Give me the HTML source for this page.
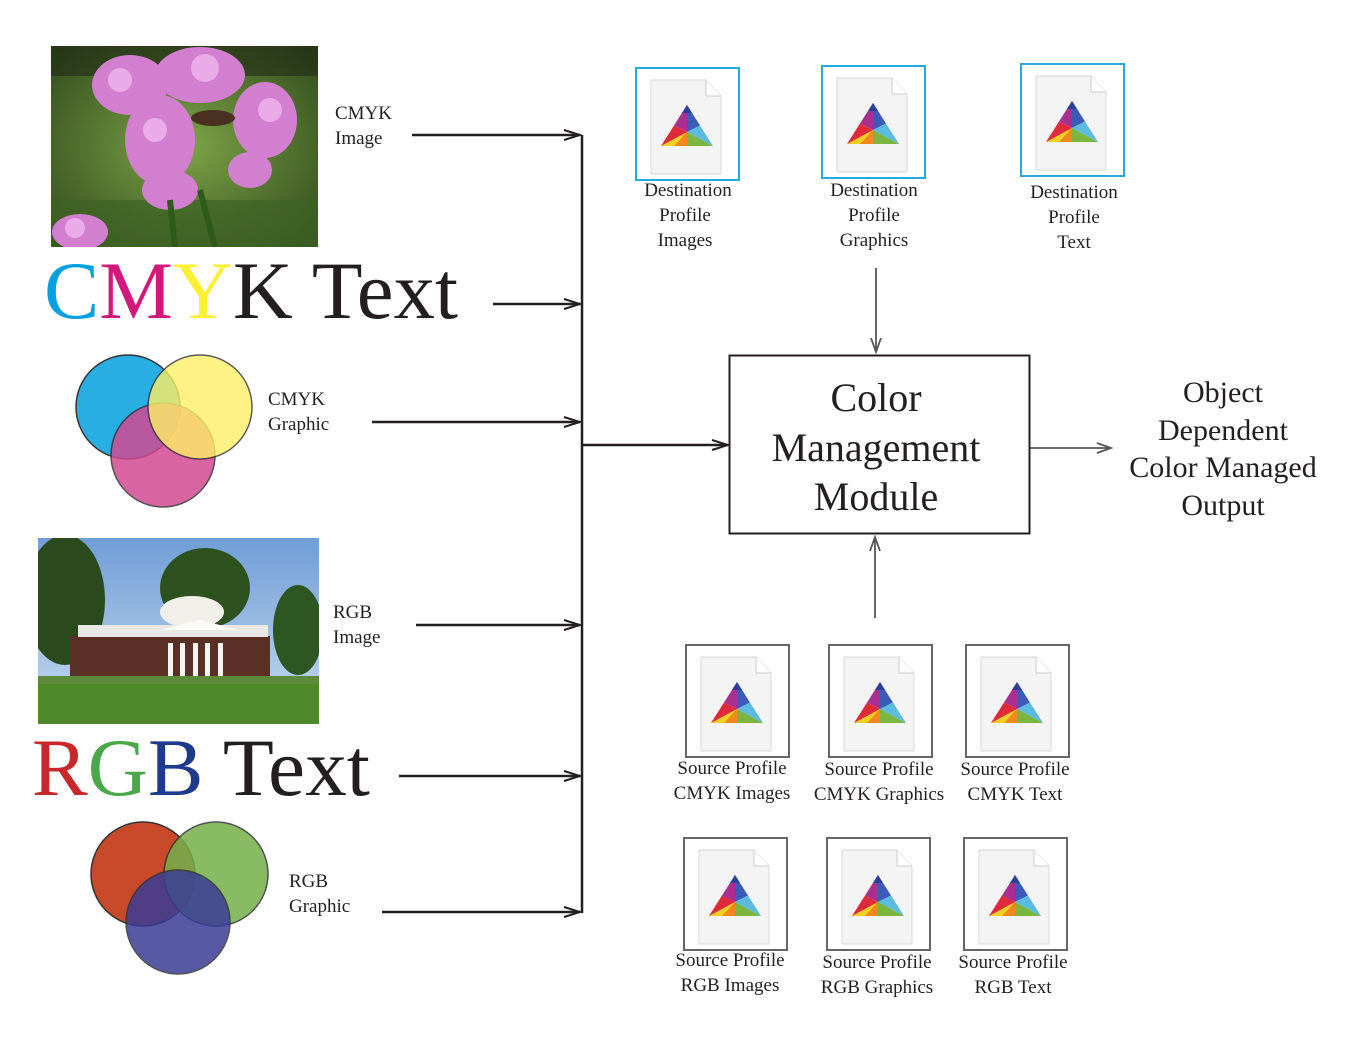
<!DOCTYPE html>
<html><head><meta charset="utf-8"><style>
html,body{margin:0;padding:0;background:#fff;width:1362px;height:1048px;overflow:hidden}
svg{display:block}
text{font-family:"Liberation Serif",serif;fill:#231f20}
</style></head><body>
<svg width="1362" height="1048" viewBox="0 0 1362 1048" xmlns="http://www.w3.org/2000/svg">
<defs>
<marker id="ah" markerWidth="20" markerHeight="12" refX="18" refY="6" orient="auto" markerUnits="userSpaceOnUse">
<path d="M2,1 L18,6 L2,11" fill="none" stroke="#231f20" stroke-width="2"/>
</marker>
<marker id="ahg" markerWidth="20" markerHeight="12" refX="18" refY="6" orient="auto" markerUnits="userSpaceOnUse">
<path d="M4,1 L18,6 L4,11" fill="none" stroke="#555" stroke-width="1.8"/>
</marker>
<linearGradient id="sky" x1="0" y1="0" x2="0" y2="1"><stop offset="0" stop-color="#6f9ed6"/><stop offset="1" stop-color="#c9dcf0"/></linearGradient>
<radialGradient id="grass1" cx="0.5" cy="0.5" r="0.7"><stop offset="0" stop-color="#7da447"/><stop offset="1" stop-color="#2f4a1c"/></radialGradient>
<clipPath id="c1"><rect x="51" y="46" width="267" height="201"/></clipPath>
<clipPath id="c2"><rect x="38" y="538" width="281" height="186"/></clipPath>
<g id="ico">
<path d="M15,12 H70 L85,28 V106 H15 Z" fill="#f4f4f4" stroke="#d8d8d8" stroke-width="1"/>
<path d="M70,12 V28 H85" fill="#fff" stroke="#ccc" stroke-width="1"/>
<polygon points="51,37 38,57.5 51,64" fill="#a83090"/>
<polygon points="51,37 64,57.5 51,64" fill="#3a5cb8"/>
<polygon points="64,57.5 77,78 51,64" fill="#5cbbe0"/>
<polygon points="77,78 51,78 51,64" fill="#7ab640"/>
<polygon points="51,78 25,78 51,64" fill="#f0d020"/>
<polygon points="25,78 38,57.5 51,64" fill="#e02a3a"/>
<polygon points="51,78 38,78 51,64" fill="#f08a20"/>
<polygon points="51,37 56,45 46,45" fill="#2b3f9a"/>
</g>
</defs>

<!-- Flower photo -->
<g clip-path="url(#c1)">
<rect x="51" y="46" width="267" height="201" fill="url(#grass1)"/>
<rect x="51" y="46" width="267" height="30" fill="#1f2a14" opacity="0.6"/>
<rect x="51" y="200" width="267" height="47" fill="#3d6224" opacity="0.7"/>
<g fill="#d27fd0">
<ellipse cx="130" cy="85" rx="38" ry="30"/>
<ellipse cx="200" cy="75" rx="45" ry="28"/>
<ellipse cx="160" cy="140" rx="35" ry="45"/>
<ellipse cx="265" cy="120" rx="32" ry="38"/>
<ellipse cx="170" cy="190" rx="28" ry="20"/>
<ellipse cx="250" cy="170" rx="22" ry="18"/>
<ellipse cx="80" cy="232" rx="28" ry="18"/>
</g>
<g fill="#f0b6ee" opacity="0.8">
<circle cx="120" cy="80" r="12"/><circle cx="205" cy="68" r="14"/><circle cx="155" cy="130" r="12"/><circle cx="270" cy="110" r="12"/><circle cx="75" cy="228" r="10"/>
</g>
<ellipse cx="213" cy="118" rx="22" ry="8" fill="#4a3020"/>
<path d="M170,200 L175,247 M200,190 L215,247" stroke="#2e5a1c" stroke-width="6"/>
</g>

<!-- House photo -->
<g clip-path="url(#c2)">
<rect x="38" y="538" width="281" height="186" fill="url(#sky)"/>
<rect x="38" y="683" width="281" height="41" fill="#4f8a2a"/>
<ellipse cx="65" cy="600" rx="40" ry="65" fill="#2b4a1e"/>
<ellipse cx="205" cy="588" rx="45" ry="40" fill="#2d5220"/>
<ellipse cx="298" cy="630" rx="25" ry="45" fill="#2d5622"/>
<rect x="70" y="636" width="200" height="45" fill="#5a3026"/>
<rect x="78" y="625" width="190" height="12" fill="#e8e8e4"/>
<ellipse cx="192" cy="612" rx="32" ry="16" fill="#f0efea"/>
<polygon points="160,630 200,620 240,630" fill="#fafaf6"/>
<g fill="#f4f4f0"><rect x="168" y="643" width="5" height="35"/><rect x="180" y="643" width="5" height="35"/><rect x="193" y="643" width="5" height="35"/><rect x="205" y="643" width="5" height="35"/><rect x="218" y="643" width="5" height="35"/></g>
<rect x="38" y="676" width="281" height="8" fill="#5d8a3a"/>
</g>

<!-- CMYK circles -->
<circle cx="128" cy="407" r="52" fill="#29aee3" stroke="#333" stroke-width="1.5"/>
<circle cx="163" cy="455" r="52" fill="#d24a92" stroke="#333" stroke-width="1.5" opacity="0.85"/>
<circle cx="200" cy="407" r="52" fill="#fff066" stroke="#333" stroke-width="1.5" opacity="0.8"/>

<!-- RGB circles -->
<circle cx="143" cy="874" r="52" fill="#c84a2a" stroke="#333" stroke-width="1.5"/>
<circle cx="216" cy="874" r="52" fill="#74b04a" stroke="#333" stroke-width="1.5" opacity="0.85"/>
<circle cx="178" cy="922" r="52" fill="#3a3d96" stroke="#333" stroke-width="1.5" opacity="0.85"/>

<!-- Big texts -->
<text x="44" y="318" font-size="82" textLength="414" lengthAdjust="spacingAndGlyphs"><tspan fill="#05a0e0">C</tspan><tspan fill="#d2187a">M</tspan><tspan fill="#fff035">Y</tspan><tspan fill="#231f20">K Text</tspan></text>
<text x="32" y="795" font-size="82" textLength="338" lengthAdjust="spacingAndGlyphs"><tspan fill="#c8282a">R</tspan><tspan fill="#4aa84a">G</tspan><tspan fill="#1e3a8c">B</tspan><tspan fill="#231f20"> Text</tspan></text>

<!-- small labels -->
<g font-size="19">
<text x="335" y="119">CMYK</text><text x="335" y="144">Image</text>
<text x="268" y="405">CMYK</text><text x="268" y="430">Graphic</text>
<text x="333" y="618">RGB</text><text x="333" y="643">Image</text>
<text x="289" y="887">RGB</text><text x="289" y="912">Graphic</text>
</g>

<!-- bus and arrows -->
<g stroke="#231f20" stroke-width="2.5" fill="none">
<line x1="582" y1="135" x2="582" y2="913"/>
<line x1="412" y1="135" x2="580" y2="135" marker-end="url(#ah)"/>
<line x1="493" y1="304" x2="580" y2="304" marker-end="url(#ah)"/>
<line x1="372" y1="422" x2="580" y2="422" marker-end="url(#ah)"/>
<line x1="416" y1="625" x2="580" y2="625" marker-end="url(#ah)"/>
<line x1="399" y1="776" x2="580" y2="776" marker-end="url(#ah)"/>
<line x1="382" y1="912" x2="580" y2="912" marker-end="url(#ah)"/>
<line x1="582" y1="445" x2="728" y2="445" marker-end="url(#ah)"/>
</g>
<g stroke="#555" stroke-width="1.8" fill="none">
<line x1="876" y1="268" x2="876" y2="352" marker-end="url(#ahg)"/>
<line x1="875" y1="618" x2="875" y2="537" marker-end="url(#ahg)"/>
<line x1="1030" y1="448" x2="1111" y2="448" marker-end="url(#ahg)"/>
</g>

<!-- CMM box -->
<rect x="729.5" y="355.5" width="300" height="178" fill="#fff" stroke="#231f20" stroke-width="2"/>
<g font-size="40" text-anchor="middle">
<text x="876" y="411">Color</text>
<text x="876" y="461">Management</text>
<text x="876" y="510">Module</text>
</g>
<g font-size="30" text-anchor="middle">
<text x="1223" y="402">Object</text>
<text x="1223" y="440">Dependent</text>
<text x="1223" y="477">Color Managed</text>
<text x="1223" y="515">Output</text>
</g>

<!-- destination icons -->
<g fill="none" stroke="#29a8e0" stroke-width="2">
<rect x="636" y="68" width="103" height="112"/>
<rect x="822" y="66" width="103" height="112"/>
<rect x="1021" y="64" width="103" height="112"/>
</g>
<use href="#ico" x="636" y="68"/>
<use href="#ico" x="822" y="66"/>
<use href="#ico" x="1021" y="64"/>
<g font-size="19" text-anchor="middle">
<text x="688" y="196">Destination</text><text x="685" y="221">Profile</text><text x="685" y="246">Images</text>
<text x="874" y="196">Destination</text><text x="874" y="221">Profile</text><text x="874" y="246">Graphics</text>
<text x="1074" y="198">Destination</text><text x="1074" y="223">Profile</text><text x="1074" y="248">Text</text>
</g>

<!-- source icons -->
<g fill="none" stroke="#666" stroke-width="2">
<rect x="686" y="645" width="103" height="112"/>
<rect x="829" y="645" width="103" height="112"/>
<rect x="966" y="645" width="103" height="112"/>
<rect x="684" y="838" width="103" height="112"/>
<rect x="827" y="838" width="103" height="112"/>
<rect x="964" y="838" width="103" height="112"/>
</g>
<use href="#ico" x="686" y="645"/>
<use href="#ico" x="829" y="645"/>
<use href="#ico" x="966" y="645"/>
<use href="#ico" x="684" y="838"/>
<use href="#ico" x="827" y="838"/>
<use href="#ico" x="964" y="838"/>
<g font-size="19" text-anchor="middle">
<text x="732" y="774">Source Profile</text><text x="732" y="799">CMYK Images</text>
<text x="879" y="775">Source Profile</text><text x="879" y="800">CMYK Graphics</text>
<text x="1015" y="775">Source Profile</text><text x="1015" y="800">CMYK Text</text>
<text x="730" y="966">Source Profile</text><text x="730" y="991">RGB Images</text>
<text x="877" y="968">Source Profile</text><text x="877" y="993">RGB Graphics</text>
<text x="1013" y="968">Source Profile</text><text x="1013" y="993">RGB Text</text>
</g>
</svg>
</body></html>
